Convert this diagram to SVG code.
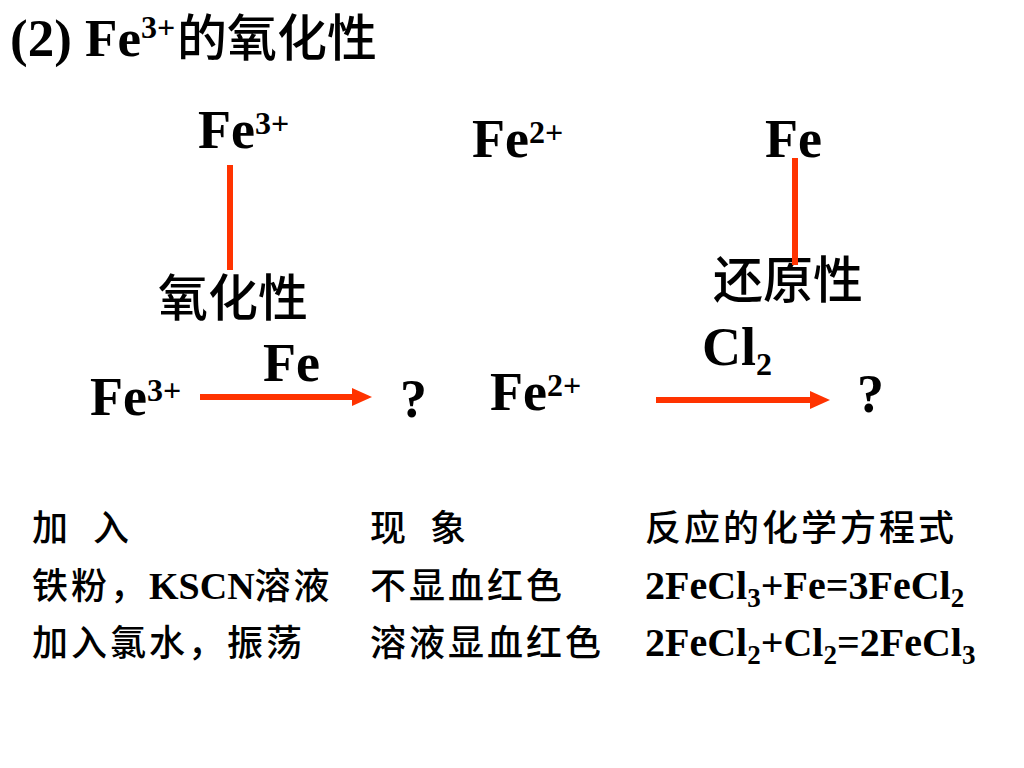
<svg xmlns="http://www.w3.org/2000/svg" width="1024" height="768" viewBox="0 0 1024 768">
<style>
.b{font-family:"Liberation Serif","Noto Sans CJK SC",serif;font-weight:bold;fill:#000}
.c{font-family:"Noto Sans CJK SC",sans-serif;font-weight:500;fill:#000}
.m{font-size:54px}
.t{font-size:36px;letter-spacing:3px}
.f{font-size:40px}
.ln{stroke:#ff3300;stroke-width:6;fill:none}
</style>
<defs>
<marker id="ah" markerWidth="20" markerHeight="18" refX="8" refY="9" orient="auto" markerUnits="userSpaceOnUse">
<path d="M0,0 L20,9 L0,18 Z" fill="#ff3300"/>
</marker>
</defs>
<rect width="1024" height="768" fill="#fff"/>
<g id="title">
<text x="10" y="56" class="b" font-size="53">(2) Fe<tspan font-size="32" dy="-18">3+</tspan></text>
<text x="177" y="56" class="c" font-size="50">的氧化性</text>
</g>
<g id="n-fe3-top"><text x="198" y="148" class="b m">Fe<tspan font-size="32" dy="-14">3+</tspan></text></g>
<g id="n-fe2-top"><text x="472" y="157" class="b m">Fe<tspan font-size="32" dy="-14">2+</tspan></text></g>
<g id="n-fe-top"><text x="765" y="157" class="b m">Fe</text></g>
<g id="n-oxid"><text x="158" y="316" class="c" font-size="50">氧化性</text></g>
<g id="n-red"><text x="713" y="298" class="c" font-size="50">还原性</text></g>
<g id="n-fe3-left"><text x="90" y="415" class="b m">Fe<tspan font-size="32" dy="-14">3+</tspan></text></g>
<g id="n-q1"><text x="400" y="417" class="b m">?</text></g>
<g id="n-fe2-mid"><text x="490" y="410" class="b m">Fe<tspan font-size="32" dy="-14">2+</tspan></text></g>
<g id="n-q2"><text x="857" y="412" class="b m">?</text></g>
<g id="lbl-fe"><text x="263" y="381" class="b m">Fe</text></g>
<g id="lbl-cl2"><text x="702" y="365" class="b m">Cl<tspan font-size="32" dy="10">2</tspan></text></g>
<g id="connectors">
<line class="ln" x1="230" y1="165" x2="230" y2="270"/>
<line class="ln" x1="795" y1="158" x2="795" y2="265"/>
<line class="ln" x1="200" y1="397" x2="360" y2="397" marker-end="url(#ah)"/>
<line class="ln" x1="656" y1="400" x2="818" y2="400" marker-end="url(#ah)"/>
</g>
<g id="table">
<text x="32" y="541" class="c t">加</text>
<text x="93" y="541" class="c t">入</text>
<text x="370" y="541" class="c t">现</text>
<text x="430" y="541" class="c t">象</text>
<text x="645" y="541" class="c t">反应的化学方程式</text>
<text x="32" y="599" class="c t">铁粉，<tspan class="b" font-size="38" letter-spacing="0">KSCN</tspan>溶液</text>
<text x="370" y="599" class="c t">不显血红色</text>
<text x="645" y="599" class="b f">2FeCl<tspan font-size="27" dy="8">3</tspan><tspan dy="-8">+Fe=3FeCl</tspan><tspan font-size="27" dy="8">2</tspan></text>
<text x="32" y="656" class="c t">加入氯水，振荡</text>
<text x="370" y="656" class="c t">溶液显血红色</text>
<text x="645" y="656" class="b f">2FeCl<tspan font-size="27" dy="8">2</tspan><tspan dy="-8">+Cl</tspan><tspan font-size="27" dy="8">2</tspan><tspan dy="-8">=2FeCl</tspan><tspan font-size="27" dy="8">3</tspan></text>
</g>
</svg>
